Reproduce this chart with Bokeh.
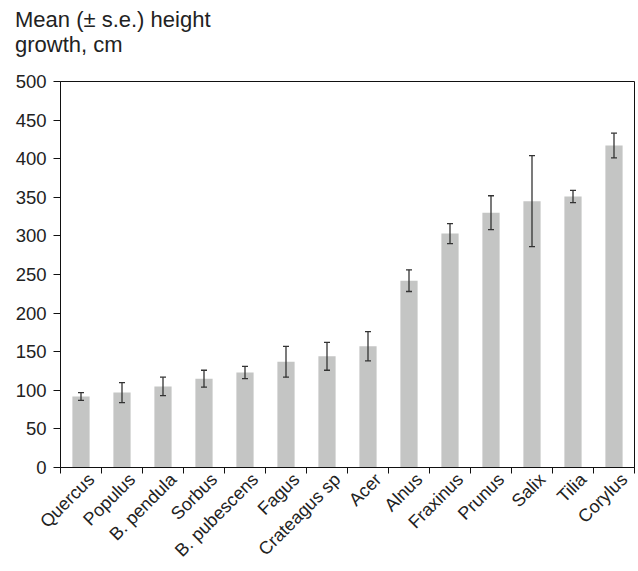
import math
from bokeh.plotting import figure
from bokeh.layouts import column
from bokeh.models import (ColumnDataSource, Whisker, TeeHead, FixedTicker,
                          LinearAxis, Range1d, Div)
from bokeh.embed import file_html
from bokeh.resources import INLINE

species = ["Quercus", "Populus", "B. pendula", "Sorbus", "B. pubescens", "Fagus",
           "Crateagus sp", "Acer", "Alnus", "Fraxinus", "Prunus", "Salix", "Tilia", "Corylus"]
means = [92, 97, 105, 115, 123, 137, 144, 157, 242, 303, 330, 345, 351, 417]
se = [5, 13, 12, 11, 8, 20, 18, 19, 14, 13, 22, 59, 8, 16]
y_ticks = [0, 50, 100, 150, 200, 250, 300, 350, 400, 450, 500]
title_lines = ["Mean (\u00b1 s.e.) height", "growth, cm"]

n = len(species)
xs = [i + 0.5 for i in range(n)]
src = ColumnDataSource(dict(
    x=xs, top=means,
    upper=[m + s for m, s in zip(means, se)],
    lower=[m - s for m, s in zip(means, se)],
))

FONT = "Liberation Sans"
TXT = "#222222"

title = Div(text="<br>".join(title_lines), width=636, height=60, margin=(0, 0, 0, 0),
            styles={"font-family": FONT, "font-size": "22px", "line-height": "25px",
                    "color": TXT, "padding-left": "15px", "padding-top": "7px",
                    "box-sizing": "border-box"})

p = figure(width=636, height=511, x_range=Range1d(0, n), y_range=Range1d(0, 500),
           output_backend="svg", toolbar_location=None, x_axis_type=None,
           y_axis_type=None, min_border_left=60, min_border_right=2,
           min_border_top=21, min_border_bottom=104, margin=(0, 0, 0, 0))

p.vbar(x="x", top="top", width=0.42, source=src, fill_color="#c4c5c4",
       line_color=None)

w = Whisker(source=src, base="x", upper="upper", lower="lower",
            line_color="#333333", line_width=1.3, level="overlay",
            upper_head=TeeHead(size=6, line_color="#333333", line_width=1.3),
            lower_head=TeeHead(size=6, line_color="#333333", line_width=1.3))
p.add_layout(w)

# y axis
yax = LinearAxis(ticker=FixedTicker(ticks=y_ticks))
yax.axis_line_color = "#111111"
yax.major_tick_line_color = "#111111"
yax.major_tick_out = 7
yax.major_tick_in = 0
yax.minor_tick_line_color = None
yax.major_label_text_font = FONT
yax.major_label_text_font_size = "18.5px"
yax.major_label_text_color = TXT
yax.major_label_standoff = 7
p.add_layout(yax, "left")

# x axis: names (rotated, ending right of centre), tick marks at boundaries
label_pos = [x + 0.25 for x in xs]
xax = LinearAxis(ticker=FixedTicker(ticks=label_pos, minor_ticks=list(range(n + 1))))
xax.axis_line_color = "#111111"
xax.major_tick_line_color = None
xax.major_tick_out = 0
xax.major_tick_in = 0
xax.minor_tick_line_color = "#111111"
xax.minor_tick_out = 6
xax.minor_tick_in = 0
xax.major_label_overrides = {x: s for x, s in zip(label_pos, species)}
xax.major_label_orientation = math.pi / 4
xax.major_label_text_font = FONT
xax.major_label_text_font_size = "18px"
xax.major_label_text_color = TXT
xax.major_label_standoff = 3
p.add_layout(xax, "below")

p.xgrid.visible = False
p.ygrid.visible = False
p.outline_line_color = "#111111"
p.outline_line_width = 1

layout = column(title, p, spacing=0)
open("out.html", "w").write(file_html(layout, INLINE))
